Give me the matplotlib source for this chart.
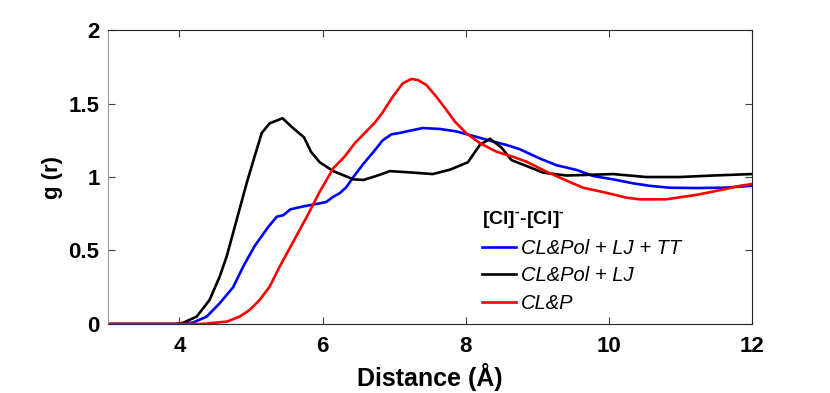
import matplotlib
matplotlib.use('Agg')
import matplotlib.pyplot as plt

plt.rcParams['font.family'] = ['Liberation Sans', 'DejaVu Sans']
plt.rcParams['mathtext.fontset'] = 'custom'
plt.rcParams['mathtext.rm'] = 'Liberation Sans:bold'

# CL&Pol + LJ + TT (blue)
x_tt = [3.0, 4.0, 4.19, 4.38, 4.56, 4.75, 4.89, 5.05, 5.24, 5.36, 5.45, 5.55, 5.73, 5.91, 6.05,
        6.15, 6.24, 6.33, 6.43, 6.57, 6.71, 6.84, 6.96, 7.08, 7.17, 7.40, 7.64, 7.87, 8.10,
        8.34, 8.57, 8.75, 9.03, 9.27, 9.55, 9.78, 10.06, 10.34, 10.57, 10.85, 11.22, 11.59, 12.0]
g_tt = [0.0, 0.0, 0.01, 0.05, 0.14, 0.25, 0.39, 0.53, 0.66, 0.73, 0.74, 0.78, 0.80, 0.816, 0.83,
        0.866, 0.89, 0.93, 1.00, 1.09, 1.17, 1.25, 1.29, 1.30, 1.31, 1.333, 1.327, 1.31, 1.28,
        1.247, 1.218, 1.19, 1.127, 1.08, 1.048, 1.007, 0.984, 0.957, 0.94, 0.927, 0.925, 0.927, 0.94]

# CL&Pol + LJ (black)
x_lj = [3.0, 3.95, 4.05, 4.24, 4.42, 4.56, 4.66, 4.80, 4.94, 5.05, 5.15, 5.26, 5.44, 5.57, 5.74,
        5.84, 5.96, 6.15, 6.43, 6.57, 6.75, 6.94, 7.26, 7.54, 7.78, 8.03, 8.20, 8.34, 8.50,
        8.64, 8.85, 9.08, 9.41, 10.06, 10.52, 10.99, 11.45, 12.0]
g_lj = [0.0, 0.0, 0.008, 0.05, 0.163, 0.32, 0.46, 0.71, 0.96, 1.14, 1.30, 1.365, 1.40, 1.34, 1.27,
        1.17, 1.10, 1.04, 0.984, 0.98, 1.007, 1.04, 1.03, 1.02, 1.05, 1.10, 1.22, 1.26, 1.20,
        1.115, 1.075, 1.03, 1.01, 1.02, 1.00, 1.00, 1.01, 1.02]

# CL&P (red)
x_p = [3.0, 4.3, 4.66, 4.84, 4.98, 5.12, 5.26, 5.40, 5.59, 5.78, 5.96, 6.15, 6.31, 6.45, 6.57,
       6.73, 6.84, 6.98, 7.12, 7.24, 7.33, 7.45, 7.59, 7.73, 7.85, 8.01, 8.20, 8.43, 8.66,
       8.85, 9.13, 9.41, 9.64, 9.96, 10.24, 10.43, 10.80, 10.99, 11.22, 11.55, 11.83, 12.0]
g_p = [0.0, 0.0, 0.016, 0.05, 0.095, 0.163, 0.254, 0.39, 0.56, 0.73, 0.90, 1.06, 1.14, 1.23, 1.29,
       1.37, 1.44, 1.546, 1.637, 1.667, 1.66, 1.626, 1.546, 1.456, 1.376, 1.297, 1.23, 1.172, 1.138,
       1.104, 1.036, 0.975, 0.927, 0.893, 0.86, 0.848, 0.848, 0.862, 0.878, 0.91, 0.94, 0.952]

labels = ['CL&Pol + LJ + TT', 'CL&Pol + LJ', 'CL&P']
colors = ['#0000ff', '#000000', '#ff0000']

fig = plt.figure(figsize=(8.3, 3.93), dpi=100)
ax = fig.add_axes([0.130, 0.1756, 0.776, 0.748])

for xs, ys, lab, c in zip([x_tt, x_lj, x_p], [g_tt, g_lj, g_p], labels, colors):
    ax.plot(xs, ys, color=c, lw=1.9, label=lab)

ax.set_xlim(3, 12)
ax.set_ylim(0, 2)
ax.set_xticks([4, 6, 8, 10, 12])
ax.set_yticks([0, 0.5, 1, 1.5, 2])
ax.set_yticklabels(['0', '0.5', '1', '1.5', '2'])
ax.tick_params(direction='in', length=5, width=0.8, top=True, right=True,
               labelsize=16, colors='#404040', labelcolor='black', pad=6)
ax.tick_params(axis='x', pad=9)
for lbl in ax.get_xticklabels() + ax.get_yticklabels():
    lbl.set_fontweight('bold')

for side in ['top', 'right', 'bottom']:
    ax.spines[side].set_color('#262626')
ax.spines['left'].set_color('#999999')
for s in ax.spines.values():
    s.set_linewidth(0.8)

ax.set_xlabel('Distance (Å)', fontsize=18, fontweight='bold', labelpad=4)
ax.set_ylabel('g (r)', fontsize=16, fontweight='bold', labelpad=4)

leg = ax.legend(loc='upper left', bbox_to_anchor=(0.581, 0.39), frameon=False,
                title='[Cl]$^{\\text{-}}$-[Cl]$^{\\text{-}}$',
                title_fontproperties={'weight': 'bold', 'size': 14},
                prop={'style': 'italic', 'size': 14.5}, handlelength=1.7,
                handletextpad=0.25, labelspacing=0.42, borderaxespad=0,
                borderpad=0, alignment='left')

fig.savefig('out.png', dpi=100)
